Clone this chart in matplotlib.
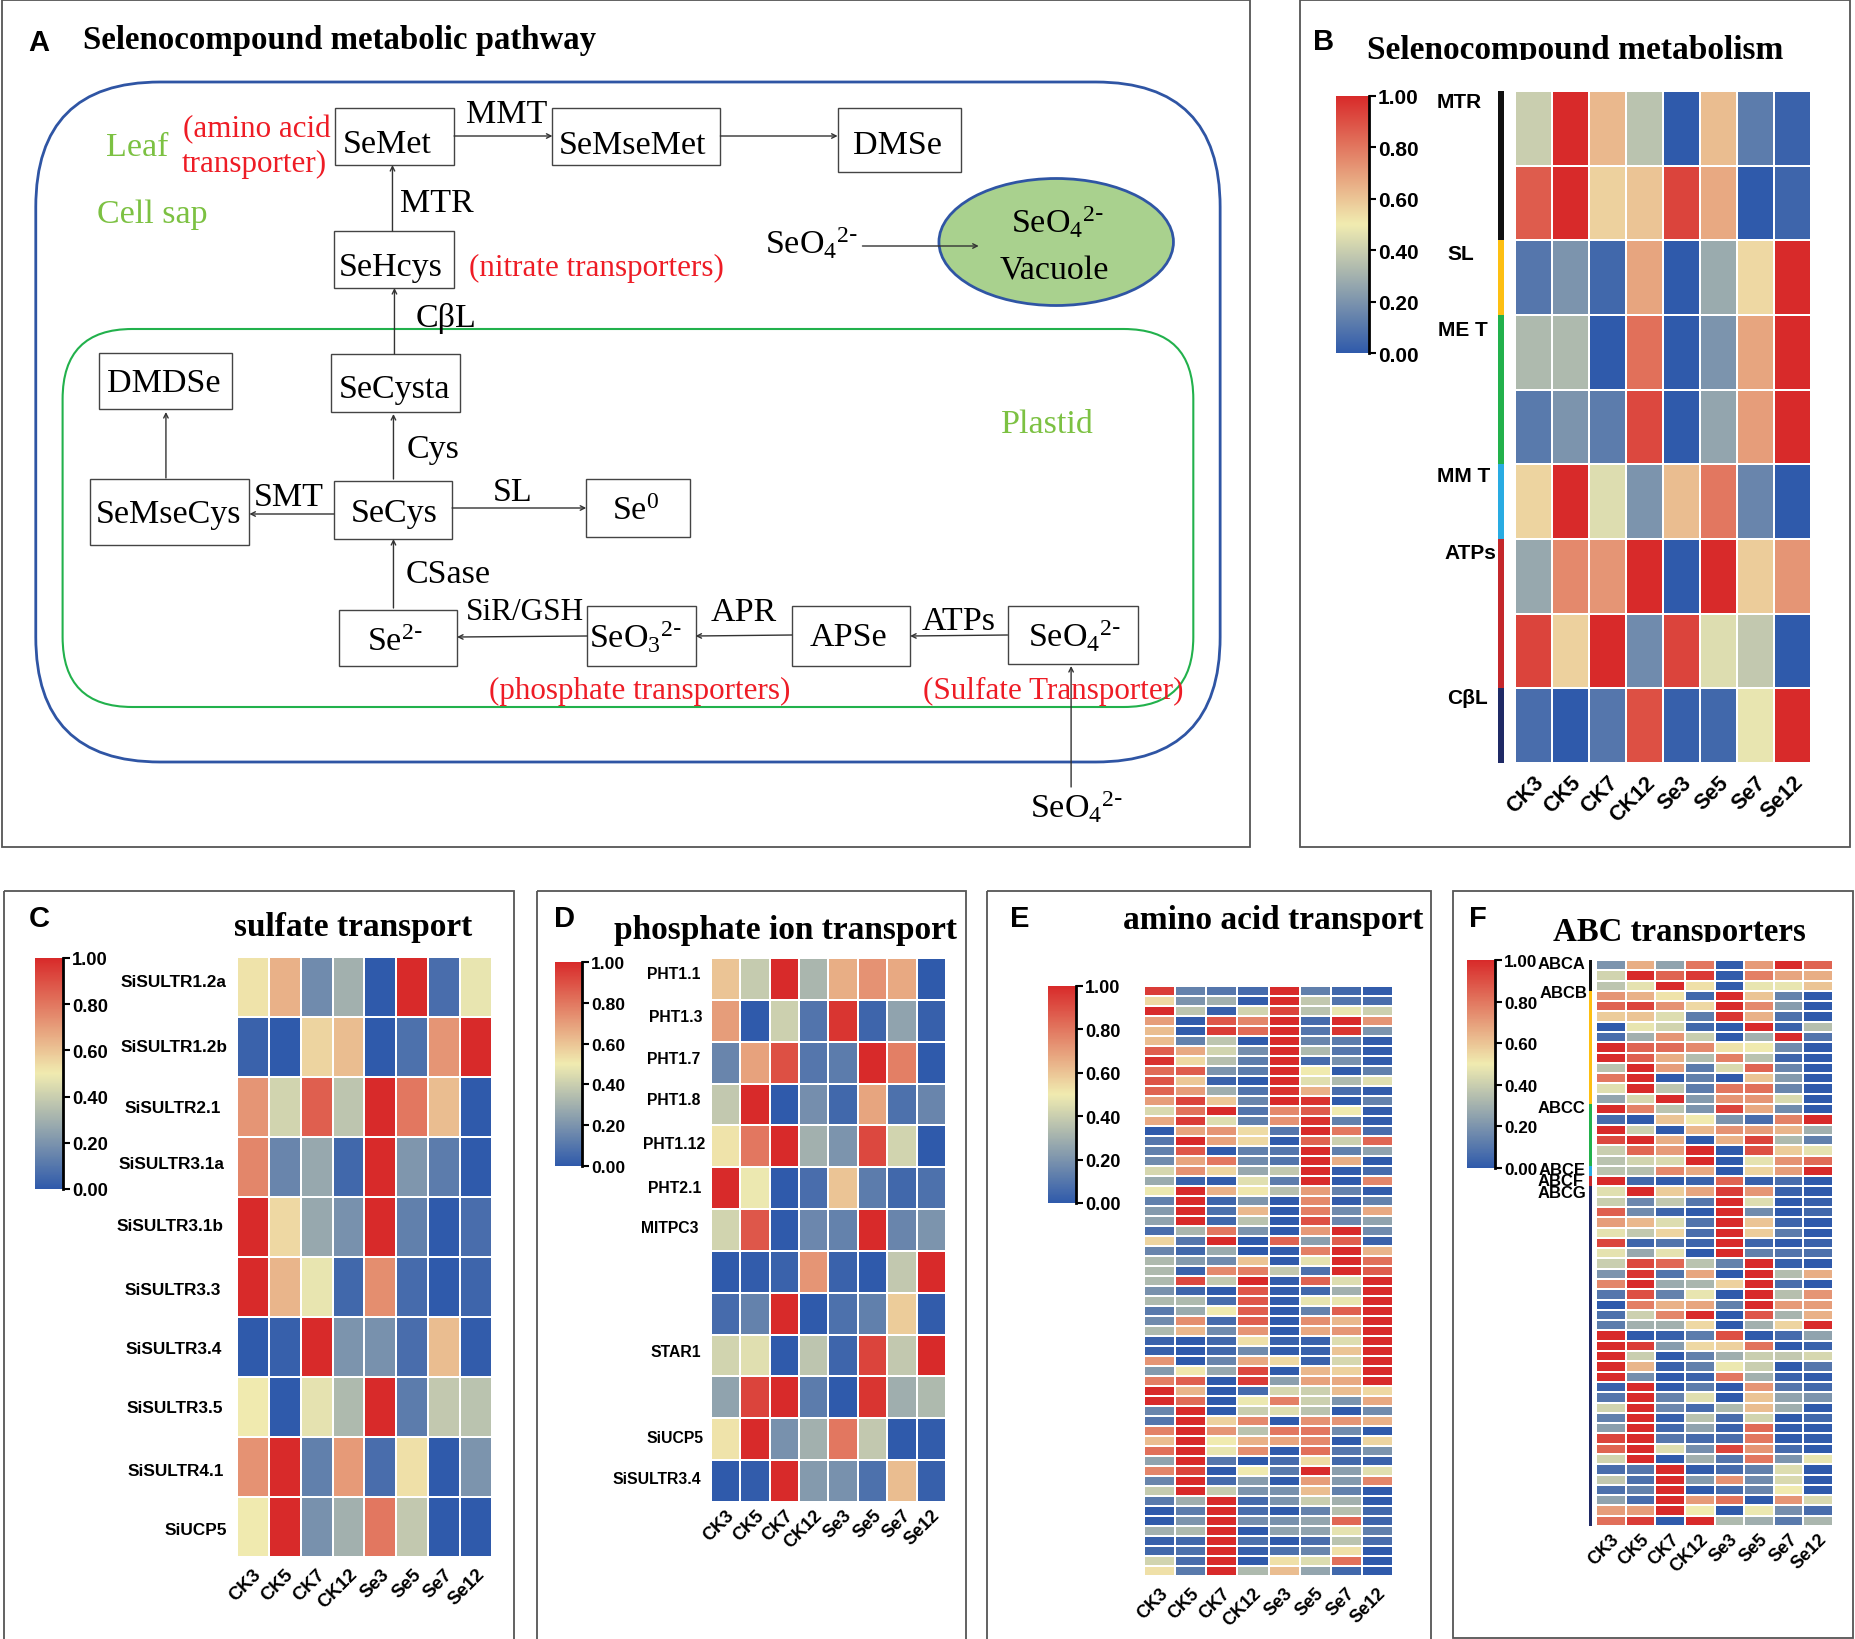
import numpy as np
import matplotlib
matplotlib.use('Agg')
import matplotlib.pyplot as plt
from matplotlib.cm import ScalarMappable
from matplotlib.colors import LinearSegmentedColormap, Normalize
from matplotlib.patches import Ellipse, FancyBboxPatch, Rectangle

W, H = 1856, 1640
plt.rcParams['font.family'] = 'Liberation Sans'
plt.rcParams['mathtext.default'] = 'regular'

samples = ['CK3', 'CK5', 'CK7', 'CK12', 'Se3', 'Se5', 'Se7', 'Se12']
cbar_ticks = [0, 0.2, 0.4, 0.6, 0.8, 1.0]

# Panel B
b_values = [
    [.40, 1, .63, .36, 0, .62, .12, .03],
    [.87, 1, .57, .60, .93, .67, 0, .04],
    [.10, .20, .05, .68, 0, .28, .55, 1],
    [.33, .33, 0, .82, 0, .20, .68, 1],
    [.11, .20, .12, .92, 0, .26, .70, 1],
    [.56, 1, .45, .20, .62, .80, .15, 0],
    [.27, .75, .72, 1, 0, 1, .58, .72],
    [.93, .57, 1, .17, .93, .45, .38, 0],
    [.07, 0, .10, .90, .02, .05, .48, 1],
]
b_groups = ['MTR', 'SL', 'ME T', 'MM T', 'ATPs', 'CβL']
b_group_sizes = [2, 1, 2, 1, 2, 1]

# Panel C
c_genes = ['SiSULTR1.2a', 'SiSULTR1.2b', 'SiSULTR2.1', 'SiSULTR3.1a', 'SiSULTR3.1b',
           'SiSULTR3.3', 'SiSULTR3.4', 'SiSULTR3.5', 'SiSULTR4.1', 'SiUCP5']
c_values = [
    [.52, .65, .17, .30, 0, 1, .07, .48],
    [.03, 0, .56, .62, 0, .08, .72, 1],
    [.72, .42, .86, .37, 1, .80, .62, 0],
    [.76, .15, .27, .05, 1, .21, .12, 0],
    [1, .55, .27, .19, 1, .13, 0, .07],
    [1, .64, .48, .05, .74, .06, 0, .04],
    [0, .02, 1, .20, .19, .07, .62, .01],
    [.50, 0, .47, .33, 1, .12, .38, .36],
    [.73, 1, .13, .71, .07, .53, 0, .20],
    [.50, 1, .19, .30, .80, .38, 0, 0],
]

# Panel D
d_genes = ['PHT1.1', 'PHT1.3', 'PHT1.7', 'PHT1.8', 'PHT1.12', 'PHT2.1', 'MITPC3',
           'STAR1', 'SiUCP5', 'SiSULTR3.4']
d_values = [
    [.60, .39, 1, .32, .66, .73, .67, 0],
    [.70, 0, .41, .09, .97, .04, .25, .02],
    [.15, .69, .90, .10, .12, 1, .78, 0],
    [.38, 1, 0, .18, .05, .68, .08, .15],
    [.52, .80, 1, .30, .20, .92, .42, 0],
    [1, .49, 0, .07, .60, .12, .05, .08],
    [.42, .88, 0, .16, .14, 1, .15, .20],
    [0, .01, .03, .72, .03, 0, .38, 1],
    [.06, .14, 1, 0, .08, .13, .58, .01],
    [.42, .46, 0, .37, .04, .93, .38, 1],
    [.25, .93, 1, .12, 0, .97, .29, .33],
    [.52, 1, .19, .30, .80, .38, 0, .01],
    [0, .01, 1, .22, .19, .08, .62, .02],
]

# Panel E
e_values = [
    [.95, .14, .10, .06, 1, .13, .05, .01],
    [.55, .20, .30, .01, 1, .38, .09, .07],
    [1, .37, .02, .42, .93, .36, .48, .41],
    [.70, .01, .88, .76, 1, .06, 1, .72],
    [.62, .01, .95, .83, 1, .10, .97, .20],
    [.62, .14, .37, 0, 1, .15, .12, .01],
    [.86, .67, .42, .18, 1, .33, .10, .01],
    [.98, .55, .35, .12, 1, .06, .19, .01],
    [.83, .87, .20, .12, 1, .50, 0, .13],
    [.89, .59, .03, 0, 1, .46, .33, .46],
    [.85, .70, .29, .09, .98, .65, .07, .01],
    [.70, .93, .59, .15, 1, .98, 0, .14],
    [.44, .81, 1, .09, .75, .87, .50, .01],
    [.67, .95, .45, .13, .73, .98, .13, .01],
    [0, .68, .72, .54, .10, 1, .80, .07],
    [.10, 1, .69, .55, 0, .85, .41, .84],
    [.13, .88, 0, .13, .10, 1, .13, .25],
    [.17, .68, .80, .17, .09, 1, .66, 0],
    [.43, .73, .56, .27, .38, 1, .01, .06],
    [.28, .03, .01, .46, .12, 1, 0, .76],
    [.49, 1, .65, .51, .35, .70, .14, .01],
    [.13, 1, .04, .21, 0, .75, .01, .14],
    [.22, 1, .08, .63, 0, .78, .17, .67],
    [.25, 1, .05, .36, 0, .90, .16, .25],
    [.07, .32, .80, .20, 0, .71, 1, .17],
    [.56, .10, 1, 0, .85, .24, .86, .03],
    [.15, .05, .28, 0, .01, .78, 1, .64],
    [.33, .22, .17, .60, 0, .47, 1, .82],
    [.33, .03, .75, .78, .38, .08, 1, .87],
    [.33, .92, .38, 1, .01, .85, .45, 1],
    [.19, .04, 0, .88, .01, .05, .30, 1],
    [.33, .33, .07, .88, .01, .48, .48, 1],
    [.11, .28, .50, .86, 0, .14, .86, 1],
    [.17, .74, .06, .86, 0, .74, .63, 1],
    [.33, .63, .17, .72, 0, .67, .72, 1],
    [.03, 0, .05, .53, .03, .03, .45, 1],
    [.02, 0, .05, .17, .01, .03, .60, 1],
    [.72, 0, .15, .67, .55, .03, .43, 1],
    [.22, .51, .27, .92, 0, .63, .57, 1],
    [.78, .86, 0, .95, .24, .69, .67, 1],
    [1, .64, 0, .06, .43, .41, .62, .55],
    [1, .83, 0, .49, .78, .41, .20, .67],
    [.15, 1, 0, .40, .45, .36, 0, .17],
    [.10, 1, .57, .75, 0, .73, .72, .65],
    [.77, 1, .72, .36, .80, .80, .17, 0],
    [.62, 1, .50, .65, .68, .75, 0, .56],
    [.82, 1, .48, .74, 0, .82, .10, .20],
    [.25, 1, .10, 0, .06, .54, .05, .03],
    [.76, .93, 0, .50, .11, 1, .24, .46],
    [.15, 1, .06, .23, 0, .70, .22, .76],
    [.39, 1, .39, .20, .19, .62, .13, 0],
    [.11, .29, 1, .06, .20, .40, .30, 0],
    [0, .12, 1, .07, 0, .14, .35, .05],
    [0, .20, 1, .18, .19, .26, .84, .04],
    [.30, .33, 1, 0, .25, .25, .47, .13],
    [.02, .05, 1, .08, 0, .07, .36, .07],
    [.05, .08, 1, .02, .08, .15, .53, 0],
    [.42, .07, 1, 0, .53, .45, .82, 0],
    [.53, .11, 1, .33, .62, .26, .05, 0],
]

# Panel F
f_groups = ['ABCA', 'ABCB', 'ABCC', 'ABCE', 'ABCF', 'ABCG']
f_group_sizes = [3, 11, 6, 1, 1, 33]
f_values = [
    [.20, .66, .25, .80, .01, .71, 1, .85],
    [.42, 1, .85, .96, .01, .78, .68, .66],
    [.37, .47, 1, .53, .01, .48, .48, .60],
    [.72, .65, .52, .05, 1, .60, .14, 0],
    [.85, .93, .73, .55, 1, .75, .23, 0],
    [.58, .60, .45, .12, .97, .65, .08, 0],
    [0, .48, .42, .05, 0, 1, .03, .35],
    [.07, .30, .72, .40, 0, .30, 1, .09],
    [1, .85, .83, .75, .52, .50, .17, 0],
    [1, .86, .66, .34, .78, .36, .04, 0],
    [.36, 1, .70, .12, .44, .85, .15, 0],
    [.80, 1, 0, .13, 0, .60, .22, 0],
    [.46, 1, .37, .12, .80, .82, .15, 0],
    [.26, .43, 1, .22, .72, .72, .44, 0],
    [1, .77, .36, .20, .93, .67, .17, 0],
    [.06, 0, .60, .50, .20, .07, .77, 1],
    [1, .41, 0, .63, .73, .70, .64, .30],
    [.92, 1, .66, 0, .65, .93, .33, .13],
    [.40, .84, .71, 1, 0, .90, .58, .47],
    [.36, .42, .44, 1, 0, .47, .73, .83],
    [.36, .35, .75, .67, 0, .56, .70, 1],
    [1, .05, .01, .03, .85, .02, .07, 0],
    [.46, 1, .58, .68, .95, .72, .03, 0],
    [.40, .16, .38, .10, 1, .45, 0, .02],
    [.86, .17, .04, 0, 1, .17, 0, .05],
    [.70, .63, .45, .09, 1, .60, .04, 0],
    [.47, .38, .56, .07, 1, .58, .12, 0],
    [.93, .04, .09, .04, 1, .04, 0, .03],
    [.47, .27, .47, 0, 1, .13, .09, .08],
    [.40, .92, .84, .36, .14, 1, .02, 0],
    [.20, .97, .09, .68, 0, 1, .34, .66],
    [.76, 1, .28, .32, .57, 1, .07, 0],
    [.10, .90, .14, .48, 0, 1, .35, .72],
    [0, .78, .65, .68, .13, 1, .71, .70],
    [.08, .41, .76, 1, 0, .88, .31, .65],
    [.12, .30, .30, .55, 0, .30, .56, 1],
    [1, 0, .02, .12, .90, 0, .06, .25],
    [1, .95, .23, .55, .57, .81, 0, .03],
    [1, .40, 0, .13, .29, .40, .38, .43],
    [1, .64, .03, .13, .49, .40, 0, .10],
    [1, .18, 0, .03, .80, .30, .03, 0],
    [.03, 1, 0, .12, 0, .72, .10, .05],
    [.10, 1, .14, .46, 0, .60, .25, .20],
    [.42, 1, .16, .06, .33, .62, .29, 0],
    [.13, 1, .02, .36, .07, .42, 0, .05],
    [.24, 1, .05, .25, .03, .83, .01, 0],
    [.93, 1, .10, .06, .07, .80, 0, .01],
    [.85, 1, .45, .18, .93, .72, .06, 0],
    [.42, 1, 0, .30, .10, .80, .20, .48],
    [.07, .10, 1, .01, .06, .13, .45, 0],
    [.38, .08, 1, .22, .73, .17, .44, 0],
    [.08, .14, 1, 0, .06, .15, .50, 0],
    [.25, .07, 1, .71, .81, 0, .72, .44],
    [.70, .70, 1, .50, 0, .49, .18, .07],
    [.82, .95, 0, 1, .33, .29, .11, .32],
]

group_colors = ['#111111', '#fdbf12', '#22b14c', '#29abe2', '#c4272b', '#1f2a66']
cmap = LinearSegmentedColormap.from_list('heat', ['#2f5aab', '#f0ebb0', '#d82a2a'])
norm = Normalize(0, 1)
green = '#7cc142'
red = '#ee1c25'
so4 = 'SeO$_4$$^{2\\text{-}}$'

fig = plt.figure(figsize=(W / 100, H / 100), dpi=100, facecolor='white')


def px_axes(x0, y0, x1, y1):
    return fig.add_axes([x0 / W, 1 - y1 / H, (x1 - x0) / W, (y1 - y0) / H])


# Full-figure layer in pixel coordinates: frames, titles, labels
bg = px_axes(0, 0, W, H)
bg.set_xlim(0, W)
bg.set_ylim(H, 0)
bg.axis('off')

# The pathway diagram gets its own layer, its x positions run slightly narrower
dg = px_axes(0, 0, W * 0.9936, H)
dg.set_xlim(0, W)
dg.set_ylim(H, 0)
dg.axis('off')


def serif(x, y, s, size=24.5, color='black', ha='center', weight='normal', ax=dg):
    ax.text(x, y, s, fontsize=size, color=color, ha=ha, va='center', family='Liberation Serif',
            fontweight=weight)


def heatmap(values, rect, size=13, lw=1.2, pad=6):
    ax = px_axes(*rect)
    data = np.array(values)
    ax.pcolormesh(data, cmap=cmap, norm=norm, edgecolors='white', linewidth=lw)
    ax.set_xlim(0, data.shape[1])
    ax.set_ylim(data.shape[0], 0)
    ax.set_yticks([])
    ax.set_xticks(np.arange(data.shape[1]) + 0.5)
    ax.set_xticklabels(samples, rotation=45, ha='right', rotation_mode='anchor',
                       fontsize=size, fontweight='bold')
    ax.tick_params(axis='x', length=0, pad=pad)
    for s in ax.spines.values():
        s.set_visible(False)
    return ax


def colorbar(rect, size=13.2):
    cax = px_axes(*rect)
    cb = fig.colorbar(ScalarMappable(norm=norm, cmap=cmap), cax=cax)
    cb.outline.set_visible(False)
    cb.set_ticks(cbar_ticks)
    cb.set_ticklabels(['%.2f' % t for t in cbar_ticks])
    cax.tick_params(length=5, width=1.5, pad=1.5, labelsize=size)
    for lab in cax.get_yticklabels():
        lab.set_fontweight('bold')
    cax.axvline(1, color='black', lw=2, clip_on=False)


def side_bar(rect, sizes):
    ax = px_axes(*rect)
    ax.barh(np.arange(sum(sizes)) + 0.5, 1, height=1,
            color=np.repeat(group_colors, sizes))
    ax.set_xlim(0, 1)
    ax.set_ylim(sum(sizes), 0)
    ax.axis('off')


def row_labels(names, rights, ys, size):
    for name, x, y in zip(names, rights, ys):
        bg.text(x, y, name, fontsize=size, fontweight='bold', ha='right', va='center')


# Panel frames
for x0, y0, x1, y1 in [(2, 1, 1250, 848), (1300, 1, 1850, 848), (4, 892, 514, 1645),
                       (537, 892, 966, 1645), (987, 892, 1431, 1645), (1453, 892, 1853, 1639)]:
    bg.add_patch(Rectangle((x0, y0), x1 - x0, y1 - y0, fill=False, ec='#555555', lw=1.3))

for letter, x, y in [('A', 39, 43), ('B', 1324, 42), ('C', 39, 919), ('D', 565, 919),
                     ('E', 1020, 919), ('F', 1478, 919)]:
    bg.text(x, y, letter, fontsize=21, fontweight='bold', ha='center', va='center')

# Panel A
serif(83, 41, 'Selenocompound metabolic pathway', size=23.7, ha='left', weight='bold', ax=bg)
dg.add_patch(FancyBboxPatch((36, 83), 1192, 680, boxstyle='round,pad=0,rounding_size=125',
                            fc='none', ec='#2f55a4', lw=2))
dg.add_patch(FancyBboxPatch((63, 330), 1138, 378, boxstyle='round,pad=0,rounding_size=70',
                            fc='none', ec='#22b14c', lw=1.5))
dg.add_patch(Ellipse((1063, 243), 236, 127, fc='#a9d18e', ec='#2f55a4', lw=2))

# name, box x0, y0, x1, y1, text offset from the box centre
boxes = [('SeMet', 337, 109, 457, 166, -7, 7), ('SeMseMet', 556, 109, 725, 166, -4, 8),
         ('DMSe', 843, 109, 967, 173, -2, 5), ('SeHcys', 336, 232, 457, 289, -3, 7),
         ('SeCysta', 333, 355, 463, 413, -1, 6), ('DMDSe', 100, 354, 233, 410, -2, 2),
         ('SeMseCys', 91, 480, 251, 546, -1, 2), ('SeCys', 336, 482, 455, 540, 1, 3),
         ('Se$^{0}$', 590, 480, 694, 538, -2, 3), ('Se$^{2\\text{-}}$', 341, 611, 460, 667, -3, 4),
         ('SeO$_3$$^{2\\text{-}}$', 591, 607, 700, 667, -6, 1), ('APSe', 797, 607, 916, 667, -3, 1),
         (so4, 1014, 607, 1145, 665, 2, 1)]
for name, x0, y0, x1, y1, dx, dy in boxes:
    dg.add_patch(Rectangle((x0, y0), x1 - x0, y1 - y0, fill=False, ec='#444444', lw=1))
    serif((x0 + x1) / 2 + dx, (y0 + y1) / 2 + dy, name)

arrows = [(457, 137, 556, 137), (725, 137, 843, 137), (395, 232, 395, 166), (397, 355, 397, 289),
          (396, 480, 396, 415), (167, 479, 167, 413), (336, 515, 251, 515), (455, 509, 590, 509),
          (396, 609, 396, 540), (591, 637, 460, 638), (797, 636, 700, 637), (1014, 636, 916, 637),
          (1078, 788, 1078, 667), (868, 247, 985, 247)]
for x0, y0, x1, y1 in arrows:
    dg.annotate('', xy=(x1, y1), xytext=(x0, y0),
                arrowprops=dict(arrowstyle='->', color='#333333', lw=1, shrinkA=0, shrinkB=0,
                                mutation_scale=8))

for s, x, y in [('MMT', 510, 115), ('MTR', 440, 204), ('CβL', 449, 318), ('Cys', 436, 450),
                ('SMT', 291, 498), ('SL', 516, 493), ('CSase', 451, 575),
                ('APR', 748, 613), ('ATPs', 965, 622), (so4, 817, 243), (so4, 1064, 222),
                ('Vacuole', 1061, 271), (so4, 1083, 808)]:
    serif(x, y, s)
serif(528, 613, 'SiR/GSH', size=22.5)
for s, x, y in [('Leaf', 138, 148), ('Cell sap', 153, 215), ('Plastid', 1054, 425)]:
    serif(x, y, s, color=green)
for s, x, y in [('(amino acid', 258, 130), ('transporter)', 256, 164), ('(nitrate transporters)', 600, 268),
                ('(phosphate transporters)', 644, 691), ('(Sulfate Transporter)', 1060, 691)]:
    serif(x, y, s, size=22.4, color=red)

# Panel B
serif(1575, 50, 'Selenocompound metabolism', size=24, weight='bold', ax=bg)
bg.add_patch(Rectangle((1365, 61), 430, 28, fc='white', ec='none', zorder=5))
heatmap(b_values, (1515, 92, 1811, 764), size=15.5, lw=1.3, pad=6)
colorbar((1336, 97, 1369, 354), size=15)
side_bar((1498, 92, 1504, 764), b_group_sizes)
for name, x, y in zip(b_groups, [1459, 1461, 1463, 1464, 1470, 1468], [103, 255, 330, 477, 554, 699]):
    bg.text(x, y, name, fontsize=15, fontweight='bold', ha='center', va='center')

# Panel C
serif(353, 928, 'sulfate transport', size=24, weight='bold', ax=bg)
heatmap(c_values, (237, 958, 492, 1558), size=13.5)
colorbar((35, 959, 63, 1190))
row_labels(c_genes, [226, 228, 221, 224, 224, 221, 222, 223, 224, 227],
           [983, 1048, 1109, 1165, 1227, 1291, 1350, 1409, 1472, 1531], 12.4)

# Panel D
serif(786, 931, 'phosphate ion transport', size=24, weight='bold', ax=bg)
heatmap(d_values, (711, 959, 946, 1503), size=13, pad=3)
colorbar((555, 963, 582, 1167), size=12.6)
row_labels(d_genes, [701, 703, 700, 700, 705, 701, 699, 701, 704, 701],
           [975, 1018, 1060, 1101, 1145, 1189, 1229, 1353, 1439, 1480], 11.3)

# Panel E
serif(1273, 921, 'amino acid transport', size=24, weight='bold', ax=bg)
heatmap(e_values, (1144, 987, 1393, 1577), size=13, pad=6)
colorbar((1048, 987, 1076, 1204), size=13)

# Panel F
serif(1679, 933, 'ABC transporters', size=23.7, weight='bold', ax=bg)
bg.add_patch(Rectangle((1540, 943), 290, 15, fc='white', ec='none', zorder=5))
heatmap(f_values, (1596, 961, 1833, 1527), size=13, pad=3)
colorbar((1467, 961, 1495, 1169), size=12.3)
side_bar((1589, 961, 1592, 1527), f_group_sizes)
row_labels(f_groups, [1585, 1587, 1585, 1586, 1584, 1586], [965, 994, 1109, 1171, 1182, 1194], 12)

fig.savefig('out.png', dpi=100)
